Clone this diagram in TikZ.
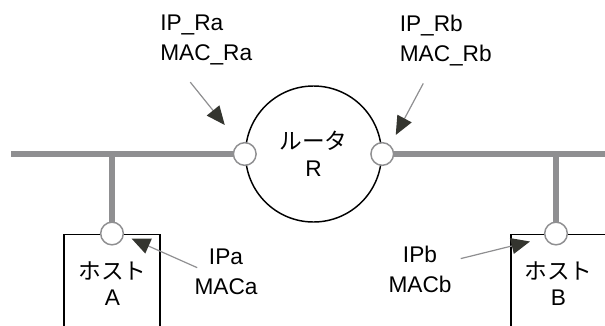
\documentclass[tikz,border=0pt]{standalone}
\usepackage{fontspec}
\setmainfont{Liberation Sans}
\newfontfamily\jpfont{Noto Sans CJK JP}
\usepackage{tikz}
\usetikzlibrary{arrows.meta,positioning,calc,backgrounds}
\definecolor{busgray}{HTML}{8F8F91}
\definecolor{headdark}{HTML}{34352F}

\begin{document}
\begin{tikzpicture}[
    x=0.75pt, y=-0.75pt,
    >={Triangle[length=14pt,width=12pt,color=headdark]},
    bus/.style={line width=5.2pt, draw=busgray},
    port/.style={
        circle, draw=busgray, fill=white, line width=1.1pt,
        minimum size=17pt, inner sep=0pt
    },
    router/.style={
        circle, draw, line width=1.1pt, minimum size=102pt,
        align=center, font=\fontsize{17}{20}\selectfont
    },
    hostbox/.style={
        rectangle, draw, line width=1.1pt,
        minimum width=72pt, minimum height=95pt, anchor=north
    },
    hosttxt/.style={align=center, inner sep=0pt, font=\fontsize{17}{20}\selectfont},
    addr/.style={align=left, inner sep=0pt, font=\fontsize{17}{22.5}\selectfont},
    ptr/.style={->, draw=busgray, line width=0.9pt}
]
    \useasboundingbox (0,0) rectangle (605,325);

    \node[router] (rt) at (313.5,154) {{\jpfont ルータ}\\R};
    \node[port] (ifRa) at (rt.west) {};
    \node[port] (ifRb) at (rt.east) {};

    \node[hostbox] (hostA) at (112,233.5) {};
    \node[hostbox] (hostB) at (559,233.5) {};
    \node[hosttxt] (txtA) at (112.5,283.5) {{\jpfont ホスト}\\A};
    \node[hosttxt] (txtB) at (558.5,283.5) {{\jpfont ホスト}\\B};
    \node[port] (ifA) at (hostA.north) {};
    \node[port] (ifB) at (556,233.5) {};

    \coordinate (busL) at (11,154);
    \coordinate (busR) at (605,154);
    \begin{scope}[on background layer]
        \draw[bus] (busL) -- (ifRa.center);
        \draw[bus] (ifRb.center) -- (busR);
        \draw[bus] (ifA |- busL) -- (ifA.center);
        \draw[bus] (ifB |- busL) -- (ifB.center);
    \end{scope}

    \node[addr, anchor=north west] (addrRa) at (160,14.5) {IP\_Ra\\MAC\_Ra};
    \node[addr, anchor=north west] (addrRb) at (399.5,15) {IP\_Rb\\MAC\_Rb};
    \node[addr, align=center, anchor=north] (addrA) at (226,249) {IPa\\MACa};
    \node[addr, align=center, anchor=north] (addrB) at (420,246) {IPb\\MACb};

    \draw[ptr] ($(addrRa.south)+(-16,17)$) -- ($(ifRa)+(-20,-29)$);
    \draw[ptr] ($(addrRb.south)+(-22.5,17)$) -- ($(ifRb)+(13.5,-19)$);
    \draw[ptr] ($(addrA.west)+(3,-4.5)$) -- ($(ifA)+(19.5,5)$);
    \draw[ptr] ($(addrB.east)+(9,-11)$) -- ($(ifB)+(-26,8)$);
\end{tikzpicture}
\end{document}
